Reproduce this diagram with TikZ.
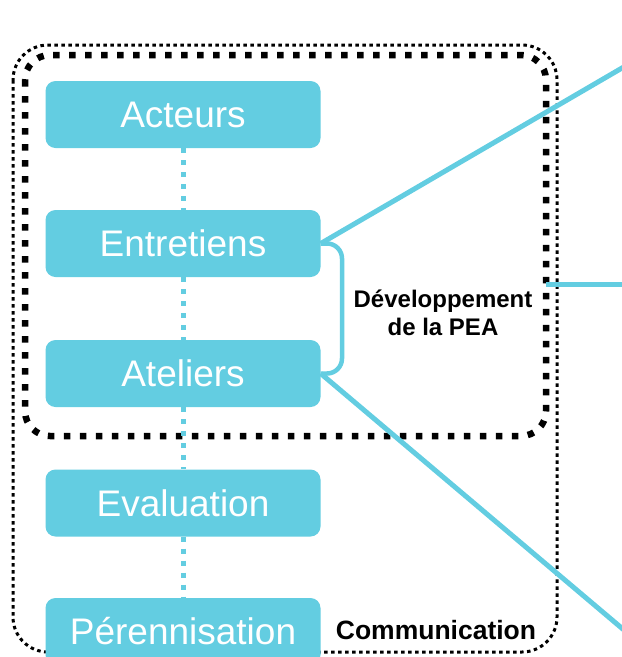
\documentclass[tikz,border=0pt]{standalone}
\usepackage{fontspec}
\setmainfont{Liberation Sans}
\definecolor{pblue}{RGB}{99,205,225}
\begin{document}
\begin{tikzpicture}[x=1pt,y=-1pt,
  box/.style={fill=pblue,rounded corners=10pt,minimum width=275pt,minimum height=67pt,
    inner sep=0pt,text=white,font=\fontsize{37}{42}\selectfont},
  vlink/.style={pblue,line width=5pt,dash pattern=on 5pt off 7pt},
  bline/.style={pblue,line width=5pt},
  lbl/.style={font=\bfseries\fontsize{24}{28}\selectfont,align=center}]
\useasboundingbox (0,0) rectangle (622,657);
\clip (0,0) rectangle (622,657);
% outer dotted frame
\draw[line width=3pt,dash pattern=on 3.5pt off 3.5pt,rounded corners=35pt] (13,45) rectangle (557,652);
% inner dashed frame
\draw[line width=6.5pt,dash pattern=on 6.5pt off 9.5pt,rounded corners=25pt] (25,55) rectangle (546,436);
% boxes
\node[box] (act) at (183,114.5) {Acteurs};
\node[box] (ent) at (183,243.5) {Entretiens};
\node[box] (ate) at (183,373.5) {Ateliers};
\node[box] (eva) at (183,503) {Evaluation};
\node[box] (per) at (183,631.5) {Pérennisation};
% dotted links
\draw[vlink] (act.south) -- (ent.north);
\draw[vlink] (ent.south) -- (ate.north);
\draw[vlink] (ate.south) -- (eva.north);
\draw[vlink] (eva.south) -- (per.north);
% bracket
\draw[bline,line width=4.5pt,rounded corners=15pt] (ent.east) -- (342,243.5) -- (342,373.5) -- (ate.east);
% outgoing lines
\coordinate (o1) at (650,51.7);
\coordinate (o2) at (650,652);
\coordinate (h1) at (546,284);
\coordinate (h2) at (630,284);
\draw[bline] (ent.east) -- (o1);
\draw[bline] (ate.east) -- (o2);
\draw[bline] (h1) -- (h2);
% labels
\node[lbl] (dev) at (443,313) {Développement\\de la PEA};
\node[font=\bfseries\fontsize{26.5}{30}\selectfont] (com) at (436,630) {Communication};
\end{tikzpicture}
\end{document}
